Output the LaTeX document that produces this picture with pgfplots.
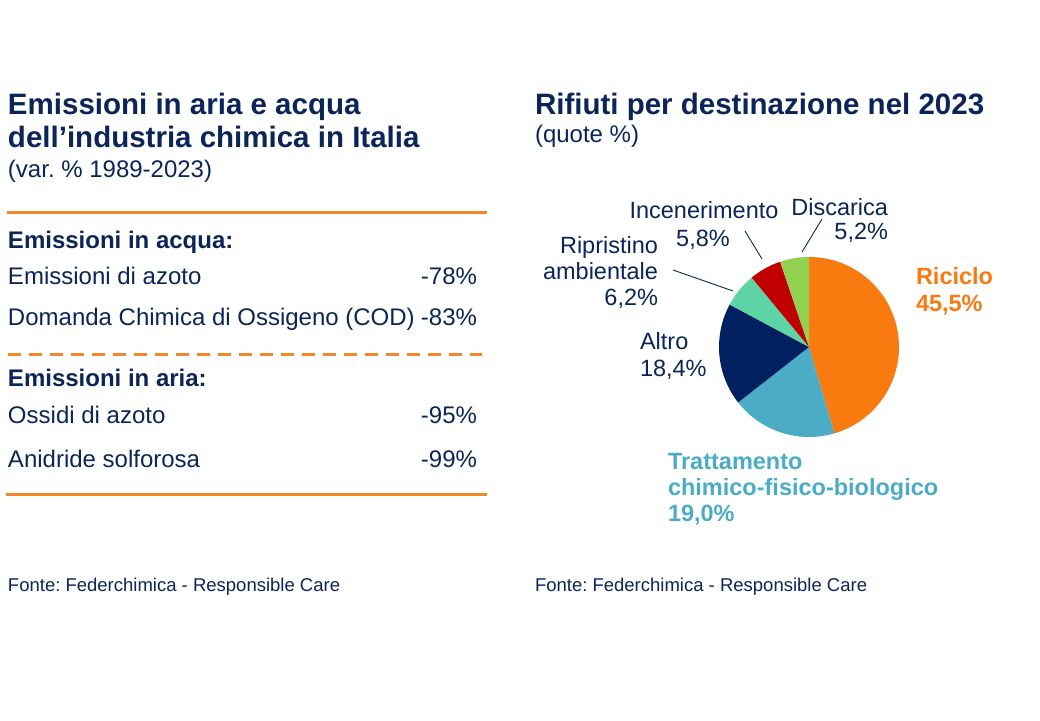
\documentclass[border=0pt]{standalone}
\usepackage{pgfplots}
\pgfplotsset{compat=1.18}
\usepackage{pgfplotstable}
\usepackage{fontspec}
\setmainfont{Liberation Sans}
\frenchspacing
\definecolor{txt}{HTML}{0B2559}
\definecolor{oline}{HTML}{F0872A}
\definecolor{cRic}{HTML}{F97A0F}
\definecolor{cTra}{HTML}{4BACC6}
\definecolor{cAlt}{HTML}{002060}
\definecolor{cRip}{HTML}{5ED3A6}
\definecolor{cInc}{HTML}{C00000}
\definecolor{cDis}{HTML}{92D050}
\pgfplotstableread{
label value
Riciclo 45.5
Trattamento 19.0
Altro 18.4
Ripristino 6.2
Incenerimento 5.8
Discarica 5.2
}\piedata
\newcommand\getv[2]{\pgfplotstablegetelem{#1}{value}\of\piedata\global\let#2\pgfplotsretval}
\newcommand\fs[1]{\fontsize{#1}{#1}\selectfont}
\begin{document}%
\begin{tikzpicture}[x=1pt,y=1pt,every node/.style={inner sep=0pt,outer sep=0pt,text=txt}]
\getv{0}\vA\getv{1}\vB\getv{2}\vC\getv{3}\vD\getv{4}\vE\getv{5}\vF
\pgfmathsetmacro\tot{\vA+\vB+\vC+\vD+\vE+\vF}
\pgfmathsetmacro\aA{90}
\pgfmathsetmacro\aB{\aA-360*\vA/\tot}
\pgfmathsetmacro\aC{\aB-360*\vB/\tot}
\pgfmathsetmacro\aD{\aC-360*\vC/\tot}
\pgfmathsetmacro\aE{\aD-360*\vD/\tot}
\pgfmathsetmacro\aF{\aE-360*\vE/\tot}
\pgfmathsetmacro\aG{-270}
\fill[white] (0,0) rectangle (1040,720);
\path[use as bounding box] (0,0) rectangle (1040,720);
% ---------- left panel ----------
\node[anchor=base west,font=\fs{29.5}\bfseries] at (8,605) {Emissioni in aria e acqua};
\node[anchor=base west,font=\fs{29.5}\bfseries] at (8,572) {dell’industria chimica in Italia};
\node[anchor=base west,font=\fs{24}] at (8,542) {(var. \% 1989-2023)};
\draw[oline,line width=3pt] (7,507) -- (487,507);
\node[anchor=base west,font=\fs{24}\bfseries] at (8,471) {Emissioni in acqua:};
\node[anchor=base west,font=\fs{24}] at (8,435) {Emissioni di azoto};
\node[anchor=base east,font=\fs{24}] at (477,435) {-78\%};
\node[anchor=base west,font=\fs{24}] at (8,394) {Domanda Chimica di Ossigeno (COD)};
\node[anchor=base east,font=\fs{24}] at (477,394) {-83\%};
\draw[oline,line width=3pt,dash pattern=on 13pt off 8pt] (8,365) -- (482,365);
\node[anchor=base west,font=\fs{24}\bfseries] at (8,333) {Emissioni in aria:};
\node[anchor=base west,font=\fs{24}] at (8,296) {Ossidi di azoto};
\node[anchor=base east,font=\fs{24}] at (477,296) {-95\%};
\node[anchor=base west,font=\fs{24}] at (8,252) {Anidride solforosa};
\node[anchor=base east,font=\fs{24}] at (477,252) {-99\%};
\draw[oline,line width=3pt] (6,225) -- (487,225);
\node[anchor=base west,font=\fs{18.5}] at (8,129) {Fonte: Federchimica - Responsible Care};
% ---------- right panel ----------
\node[anchor=base west,font=\fs{29.5}\bfseries] at (535,605) {Rifiuti per destinazione nel 2023};
\node[anchor=base west,font=\fs{24}] at (535,577) {(quote \%)};
\node[anchor=base west,font=\fs{18.5}] at (535,129) {Fonte: Federchimica - Responsible Care};
\begin{axis}[at={(719pt,283pt)},anchor=south west,scale only axis,
  width=180pt,height=180pt,xmin=-90,xmax=90,ymin=-90,ymax=90,hide axis,clip=false]
\fill[cRic] (axis cs:0,0) -- (axis cs:{90*cos(\aA)},{90*sin(\aA)}) arc[start angle=\aA,end angle=\aB,radius=90pt] -- cycle;
\fill[cTra] (axis cs:0,0) -- (axis cs:{90*cos(\aB)},{90*sin(\aB)}) arc[start angle=\aB,end angle=\aC,radius=90pt] -- cycle;
\fill[cAlt] (axis cs:0,0) -- (axis cs:{90*cos(\aC)},{90*sin(\aC)}) arc[start angle=\aC,end angle=\aD,radius=90pt] -- cycle;
\fill[cRip] (axis cs:0,0) -- (axis cs:{90*cos(\aD)},{90*sin(\aD)}) arc[start angle=\aD,end angle=\aE,radius=90pt] -- cycle;
\fill[cInc] (axis cs:0,0) -- (axis cs:{90*cos(\aE)},{90*sin(\aE)}) arc[start angle=\aE,end angle=\aF,radius=90pt] -- cycle;
\fill[cDis] (axis cs:0,0) -- (axis cs:{90*cos(\aF)},{90*sin(\aF)}) arc[start angle=\aF,end angle=\aG,radius=90pt] -- cycle;
\end{axis}
% labels
\node[anchor=base,font=\fs{23.5}] at (704,501) {Incenerimento};
\node[anchor=base,font=\fs{23.5}] at (703,473) {5,8\%};
\node[anchor=base east,font=\fs{23.5}] at (888,504) {Discarica};
\node[anchor=base east,font=\fs{23.5}] at (888,480) {5,2\%};
\node[anchor=base east,font=\fs{23.5}] at (658,466) {Ripristino};
\node[anchor=base east,font=\fs{23.5}] at (658,440) {ambientale};
\node[anchor=base east,font=\fs{23.5}] at (658,414) {6,2\%};
\node[anchor=base west,font=\fs{23.5}] at (640,370) {Altro};
\node[anchor=base west,font=\fs{23.5}] at (640,343) {18,4\%};
\node[anchor=base west,font=\fs{23.5}\bfseries,text=cRic] at (916,435) {Riciclo};
\node[anchor=base west,font=\fs{23.5}\bfseries,text=cRic] at (916,408) {45,5\%};
\node[anchor=base west,font=\fs{23.5}\bfseries,text=cTra] at (668,250) {Trattamento};
\node[anchor=base west,font=\fs{23.5}\bfseries,text=cTra] at (668,224) {chimico-fisico-biologico};
\node[anchor=base west,font=\fs{23.5}\bfseries,text=cTra] at (668,198) {19,0\%};
\draw[txt,line width=0.9pt] (822,501) -- (802,468);
\draw[txt,line width=0.9pt] (745,489) -- (762,461);
\draw[txt,line width=0.9pt] (673,450) -- (733,429);
\end{tikzpicture}%
\end{document}
